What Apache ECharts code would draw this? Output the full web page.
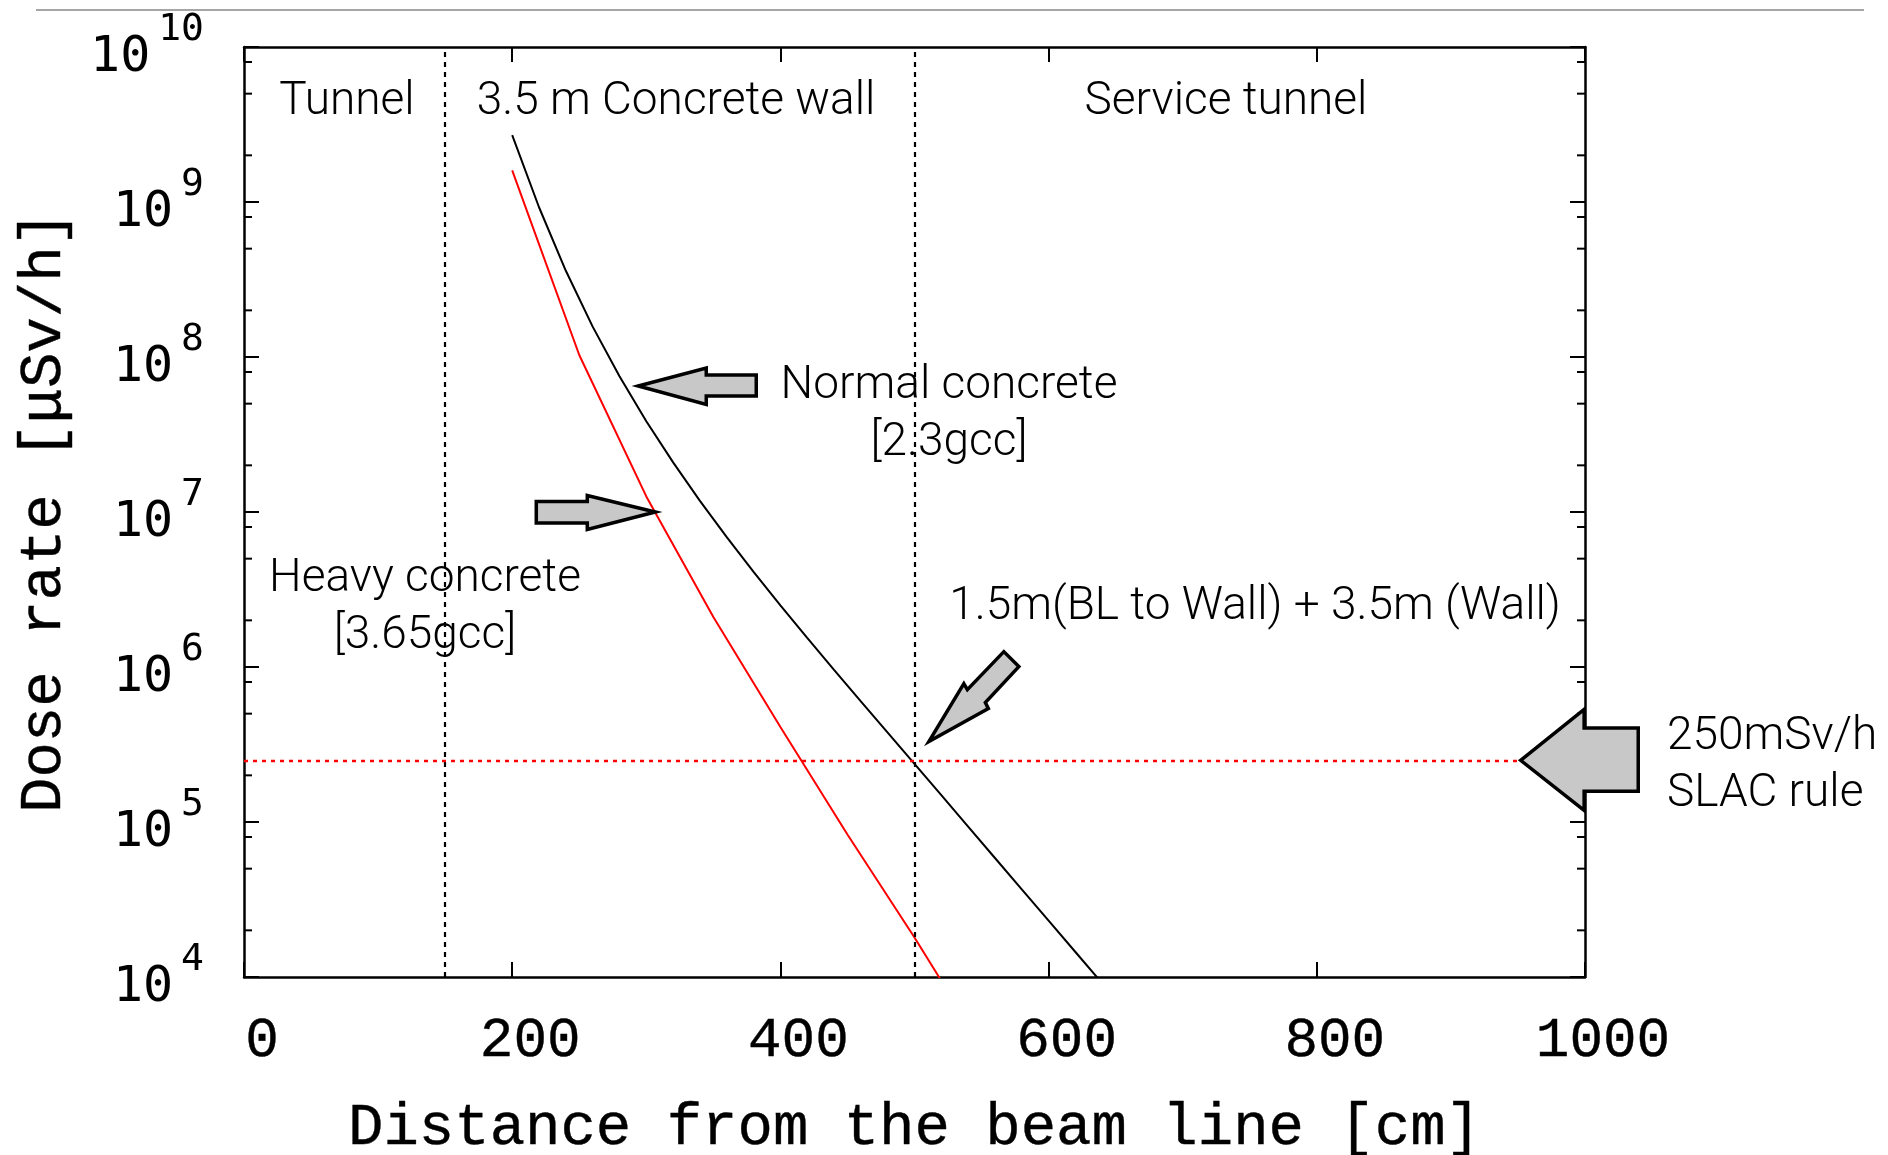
<!DOCTYPE html>
<html><head><meta charset="utf-8">
<script src="https://cdn.jsdelivr.net/npm/echarts@6/dist/echarts.min.js"></script>
<style>html,body{margin:0;padding:0;background:#fff}#c{width:1888px;height:1155px}</style>
</head><body><div id="c"></div>
<script>
// ---- data ----
const distNormal = [200,220,240,260,280,300,320,340,360,380,400,420,440,460,480,500,520,540,560,580,600,620,640];
const doseNormal = [2.7e9,9.25e8,3.6e8,1.57e8,7.52e7,3.85e7,2.09e7,1.18e7,6.89e6,4.11e6,2.5e6,1.54e6,9.59e5,6.0e5,3.77e5,2.37e5,1.49e5,9.33e4,5.86e4,3.68e4,2.31e4,1.45e4,9.1e3];
const distHeavy = [200,250,300,350,400,450,500,550];
const doseHeavy = [1.6e9,1.03e8,1.26e7,2.1e6,4.1e5,8.3e4,1.8e4,3.6e3];
const regionBounds = [150, 500];
const slacLimit = 2.5e5;
const xTicks = [0,200,400,600,800,1000];
const yDecades = [4,5,6,7,8,9,10];
const minorMantissas = [2,5,8];
const regionLabels = ['Tunnel','3.5 m Concrete wall','Service tunnel'];

const minorValues = [];
yDecades.slice(0,-1).forEach(d => minorMantissas.forEach(m => minorValues.push([0, m * Math.pow(10, d)])));

const MONO = '"Liberation Mono", "Courier New", monospace';
const SANS = 'Roboto, "Liberation Sans", Arial, sans-serif';

const chart = echarts.init(document.getElementById('c'), null, {renderer:'canvas'});

const axisLineStyle = {color:'#000', width:2.5};
const tickStyle = {color:'#000', width:2};

const option = {
  animation:false,
  backgroundColor:'#fff',
  grid:{left:244, right:303, top:47, bottom:178, containLabel:false, outerBoundsMode:'none'},
  xAxis:[{
    type:'value', min:xTicks[0], max:xTicks[xTicks.length-1], interval:200, position:'bottom',
    axisLine:{show:true, onZero:false, lineStyle:axisLineStyle},
    axisTick:{show:true, inside:true, length:15, lineStyle:tickStyle},
    splitLine:{show:false},
    axisLabel:{fontFamily:MONO, fontSize:56, color:'#000', margin:36, padding:[0,0,0,36],
      formatter: v => String(v),
      textBorderColor:'#000', textBorderWidth:0.4},
    name:'Distance from the beam line [cm]', nameLocation:'middle', nameGap:122,
    nameTextStyle:{fontFamily:MONO, fontSize:59, color:'#000', textBorderColor:'#000', textBorderWidth:0.4}
  },{
    type:'value', min:xTicks[0], max:xTicks[xTicks.length-1], interval:200, position:'top',
    axisLine:{show:true, onZero:false, lineStyle:axisLineStyle},
    axisTick:{show:true, inside:true, length:15, lineStyle:tickStyle},
    splitLine:{show:false}, axisLabel:{show:false}
  }],
  yAxis:[{
    type:'log', logBase:10, min:1e4, max:1e10, position:'left',
    axisLine:{show:true, onZero:false, lineStyle:axisLineStyle},
    axisTick:{show:true, inside:true, length:15, lineStyle:tickStyle},
    splitLine:{show:false},
    axisLabel:{
      margin:40, align:'right',
      formatter: v => '{b|10}{e|' + Math.round(Math.log10(v)) + '}',
      rich:{
        b:{fontFamily:'"DejaVu Sans Mono", monospace', fontSize:50, color:'#000', verticalAlign:'bottom', lineHeight:72},
        e:{fontFamily:'"DejaVu Sans Mono", monospace', fontSize:38, color:'#000', verticalAlign:'top', lineHeight:40, padding:[0,0,0,8]}
      }
    },
    name:'Dose rate [\u03bcSv/h]', nameLocation:'middle', nameRotate:90, nameGap:170,
    nameTextStyle:{fontFamily:MONO, fontSize:59, color:'#000', textBorderColor:'#000', textBorderWidth:0.4}
  },{
    type:'log', logBase:10, min:1e4, max:1e10, position:'right',
    axisLine:{show:true, onZero:false, lineStyle:axisLineStyle},
    axisTick:{show:true, inside:true, length:15, lineStyle:tickStyle},
    splitLine:{show:false}, axisLabel:{show:false}
  }],
  series:[
    {
      name:'Normal concrete [2.3gcc]', type:'line', xAxisIndex:0, yAxisIndex:0,
      data: distNormal.map((x,i)=>[x, doseNormal[i]]),
      showSymbol:false, symbol:'none', clip:true,
      lineStyle:{color:'#000', width:2},
      markLine:{silent:true, symbol:['none','none'], label:{show:false},
        lineStyle:{color:'#000', width:2.2, type:[5,5]},
        data: regionBounds.map(b=>({xAxis:b}))}
    },
    {
      name:'Heavy concrete [3.65gcc]', type:'line', xAxisIndex:0, yAxisIndex:0,
      data: distHeavy.map((x,i)=>[x, doseHeavy[i]]),
      showSymbol:false, symbol:'none', clip:true,
      lineStyle:{color:'#ff0000', width:2},
      markLine:{silent:true, symbol:['none','none'], label:{show:false},
        lineStyle:{color:'#ff0000', width:2.4, type:[4,5]},
        data:[{yAxis:slacLimit}]}
    },
    {
      name:'minor ticks', type:'custom', xAxisIndex:0, yAxisIndex:0, silent:true, clip:false,
      data: minorValues,
      renderItem:(params, api)=>{
        const y = api.coord([0, api.value(1)])[1];
        const cs = params.coordSys;
        const st = {stroke:'#000', lineWidth:2};
        return {type:'group', children:[
          {type:'line', shape:{x1:cs.x, y1:y, x2:cs.x+8, y2:y}, style:st},
          {type:'line', shape:{x1:cs.x+cs.width-8, y1:y, x2:cs.x+cs.width, y2:y}, style:st}
        ]};
      }
    }
  ]
};
chart.setOption(option);

// ---- annotations ----
const P = (x,y) => chart.convertToPixel({gridIndex:0}, [x,y]);
const arrowStyle = {fill:'#c8c8c8', stroke:'#000', lineWidth:3.5, lineJoin:'miter'};
function arrow(tipData, offs){
  const t = P(tipData[0], tipData[1]);
  return {type:'polygon', z:100, silent:true,
    shape:{points: offs.map(o=>[t[0]+o[0], t[1]+o[1]])}, style:arrowStyle};
}
function txt(x, y, text, align){
  return {type:'text', z:101, silent:true, x:x, y:y + 5,
    style:{text:text, fontFamily:SANS, fontSize:46, fontWeight:300, fill:'#000',
      align:align||'center', textAlign:align||'center', verticalAlign:'middle', textVerticalAlign:'middle'}};
}
const graphics = [
  {type:'line', z:100, silent:true, shape:{x1:36, y1:10, x2:1864, y2:10}, style:{stroke:'#a6a6a6', lineWidth:2}},
  arrow([294, 6.5e7], [[0,0],[68,-18],[68,-11],[118,-11],[118,10],[68,10],[68,18.5]]),
  arrow([306.7, 1.0e7], [[0,0],[-68,-16.5],[-68,-10.5],[-119,-10.5],[-119,11],[-68,11],[-68,17.5]]),
  arrow([510.7, 3.3e5], [[0,0],[35,-58],[38.5,-52],[75,-90],[90,-75],[56.5,-39],[59.5,-33]]),
  arrow([952, slacLimit], [[0,0],[63.5,-51],[63.5,-32.3],[117.6,-32.3],[117.6,31],[63.5,31],[63.5,50]]),
  txt(347, 97, regionLabels[0]),
  txt(676, 97, regionLabels[1]),
  txt(1226, 97, regionLabels[2]),
  txt(949, 381, 'Normal concrete'),
  txt(949, 438, '[2.3gcc]'),
  txt(425, 574, 'Heavy concrete'),
  txt(425, 631, '[3.65gcc]'),
  txt(1255, 602, '1.5m(BL to Wall) + 3.5m (Wall)'),
  txt(1667, 732, '250mSv/h', 'left'),
  txt(1667, 789, 'SLAC rule', 'left')
];
chart.setOption({graphic: graphics});
</script>
</body></html>
